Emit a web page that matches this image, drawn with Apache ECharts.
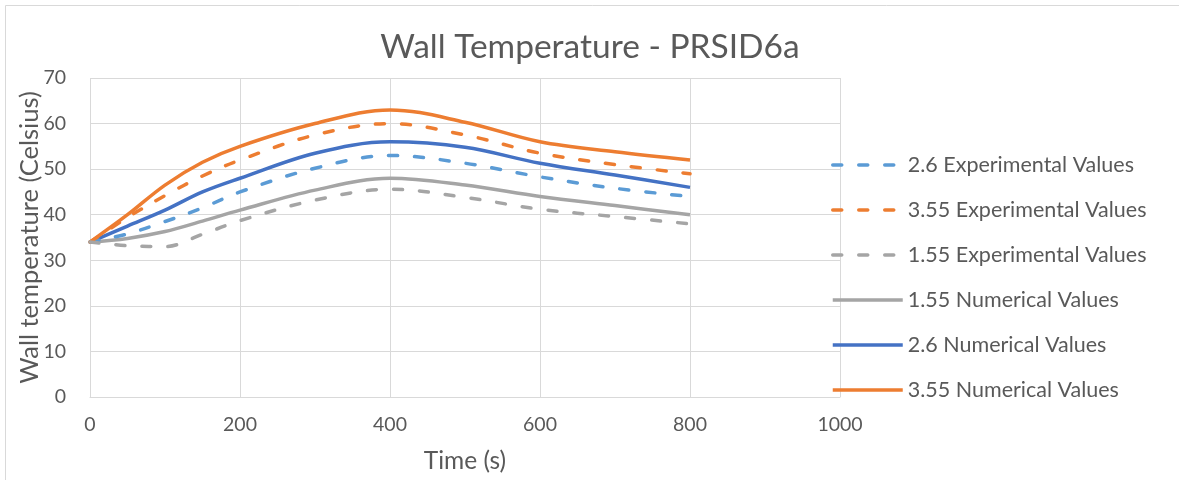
<!DOCTYPE html>
<html>
<head>
<meta charset="utf-8">
<title>Wall Temperature - PRSID6a</title>
<script src="https://cdn.jsdelivr.net/npm/echarts@6/dist/echarts.min.js"></script>
<style>
    html, body { margin: 0; padding: 0; background: #fff; }
    #chart { width: 1179px; height: 480px; }
</style>
</head>
<body>
<div id="chart"></div>
<script>
// time points (s)
const times = [0, 50, 100, 150, 200, 300, 400, 500, 600, 700, 800];

// wall temperature values (Celsius)
const exp26 = [34, 35.8, 38.5, 41.5, 45, 50.2, 53, 51.3, 48.3, 45.8, 44];
const exp355 = [34, 39.4, 44.2, 48.5, 52, 57.5, 60, 57.5, 53.5, 51, 49];
const exp155 = [34, 33.2, 33, 35.7, 38.7, 43.2, 45.6, 43.8, 41.2, 39.6, 38];
const num155 = [34, 34.8, 36.3, 38.6, 41, 45.4, 48, 46.5, 44, 42, 40];
const num26 = [34, 37.5, 41, 45, 48, 53.5, 56, 54.8, 51.3, 48.7, 46];
const num355 = [34, 40, 46.5, 51.5, 55, 60, 63, 60.3, 56, 53.8, 52];

const xTicks = [0, 200, 400, 600, 800, 1000];
const yTicks = [0, 10, 20, 30, 40, 50, 60, 70];

const textColor = '#595959';
const gridColor = '#d9d9d9';
const font = 'Lato, "Open Sans", sans-serif';

function pairs(vals) {
    return times.map((t, i) => [t, vals[i]]);
}

function makeSeries(name, vals, color, dashed) {
    return {
        name: name,
        type: 'line',
        data: pairs(vals),
        smooth: 0.35,
        symbol: 'none',
        lineStyle: {
            color: color,
            width: 3.5,
            type: dashed ? [9, 17] : 'solid',
            cap: dashed ? 'round' : 'butt'
        },
        itemStyle: { color: color },
        z: dashed ? 3 : 2
    };
}

const chart = echarts.init(document.getElementById('chart'));

chart.setOption({
    animation: false,
    backgroundColor: '#fff',
    title: {
        text: 'Wall Temperature - PRSID6a',
        left: 590,
        top: 30,
        padding: 0,
        textAlign: 'center',
        textStyle: {
            color: textColor,
            fontSize: 33.5,
            fontWeight: 'normal',
            fontFamily: font
        }
    },
    graphic: [{
        type: 'rect',
        shape: { x: 5.5, y: 5.5, width: 1180, height: 490 },
        style: { fill: 'none', stroke: gridColor, lineWidth: 1 },
        silent: true
    }],
    grid: {
        left: 90,
        right: 339,
        top: 78,
        bottom: 83
    },
    legend: {
        orient: 'vertical',
        left: 831,
        top: 154,
        padding: 0,
        itemWidth: 70,
        itemHeight: 18,
        itemGap: 23,
        itemStyle: { opacity: 0 },
        lineStyle: { width: 3.5 },
        textStyle: {
            color: textColor,
            fontSize: 21.5,
            lineHeight: 18,
            fontFamily: font,
            padding: [0, 0, 0, 0]
        },
        data: ['2.6 Experimental Values', '3.55 Experimental Values', '1.55 Experimental Values',
            '1.55 Numerical Values', '2.6 Numerical Values', '3.55 Numerical Values']
    },
    xAxis: {
        type: 'value',
        min: xTicks[0],
        max: xTicks[xTicks.length - 1],
        interval: 200,
        name: 'Time (s)',
        nameLocation: 'middle',
        nameGap: 52,
        nameMoveOverlap: false,
        nameTextStyle: { color: textColor, fontSize: 24.5, fontFamily: font },
        axisLine: { show: true, lineStyle: { color: gridColor, width: 1 } },
        axisTick: { show: false },
        axisLabel: { color: textColor, fontSize: 19.5, fontFamily: font, margin: 18, formatter: v => String(v) },
        splitLine: { show: true, lineStyle: { color: gridColor, width: 1 } }
    },
    yAxis: {
        type: 'value',
        min: yTicks[0],
        max: yTicks[yTicks.length - 1],
        interval: 10,
        name: 'Wall temperature (Celsius)',
        nameLocation: 'middle',
        nameGap: 47,
        nameMoveOverlap: false,
        nameTextStyle: { color: textColor, fontSize: 25.5, fontFamily: font },
        axisLine: { show: false },
        axisTick: { show: false },
        axisLabel: { color: textColor, fontSize: 19.5, fontFamily: font, margin: 24 },
        splitLine: { show: true, lineStyle: { color: gridColor, width: 1 } }
    },
    series: [
        makeSeries('2.6 Experimental Values', exp26, '#5B9BD5', true),
        makeSeries('3.55 Experimental Values', exp355, '#ED7D31', true),
        makeSeries('1.55 Experimental Values', exp155, '#A5A5A5', true),
        makeSeries('1.55 Numerical Values', num155, '#A5A5A5', false),
        makeSeries('2.6 Numerical Values', num26, '#4472C4', false),
        makeSeries('3.55 Numerical Values', num355, '#ED7D31', false)
    ]
});
</script>
</body>
</html>
